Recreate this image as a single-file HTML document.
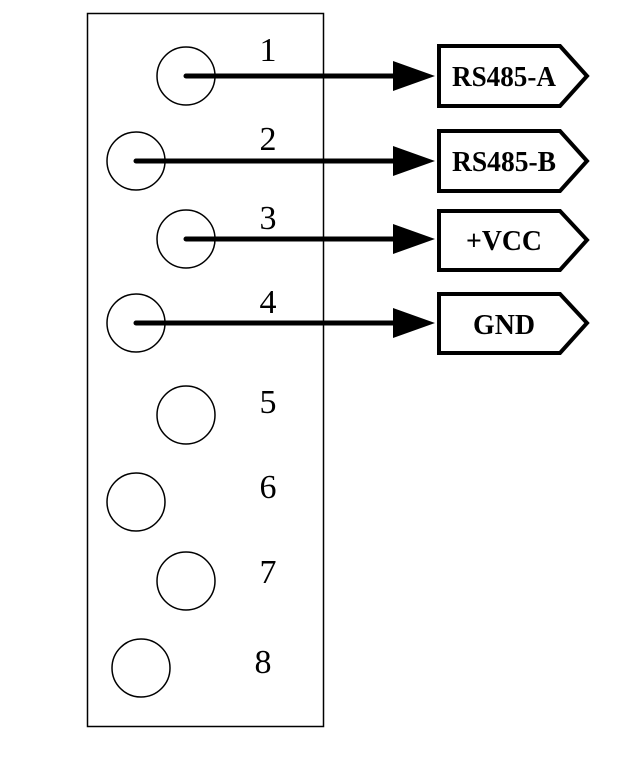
<!DOCTYPE html>
<html><head><style>body{margin:0;background:#fff}</style></head><body>
<svg width="619" height="774" xmlns="http://www.w3.org/2000/svg">
<rect x="87.5" y="13.5" width="236" height="713" fill="none" stroke="#000" stroke-width="1.5"/>
<g fill="none" stroke="#000" stroke-width="1.5">
<circle cx="186" cy="76" r="29"/><circle cx="136" cy="161" r="29"/>
<circle cx="186" cy="239" r="29"/><circle cx="136" cy="323" r="29"/>
<circle cx="186" cy="415" r="29"/><circle cx="136" cy="502" r="29"/>
<circle cx="186" cy="581" r="29"/><circle cx="141" cy="668" r="29"/>
</g>
<g font-family="Liberation Serif, serif" font-size="34" text-anchor="middle">
<text x="268" y="61">1</text><text x="268" y="150">2</text><text x="268" y="229">3</text><text x="268" y="313">4</text>
<text x="268" y="413">5</text><text x="268" y="498">6</text><text x="268" y="583">7</text><text x="263" y="673">8</text>
</g>
<g stroke="#000" stroke-width="5" stroke-linecap="round">
<line x1="186" y1="76" x2="400" y2="76"/><line x1="136" y1="161" x2="400" y2="161"/>
<line x1="186" y1="239" x2="400" y2="239"/><line x1="136" y1="323" x2="400" y2="323"/>
</g>
<g fill="#000">
<polygon points="393,61 435,76 393,91"/><polygon points="393,146 435,161 393,176"/>
<polygon points="393,224 435,239 393,254"/><polygon points="393,308 435,323 393,338"/>
</g>
<g fill="#fff" stroke="#000" stroke-width="4" stroke-linejoin="miter">
<polygon points="439,46 560,46 587,76 560,106 439,106"/>
<polygon points="439,131 560,131 587,161 560,191 439,191"/>
<polygon points="439,211 560,211 587,240 560,270 439,270"/>
<polygon points="439,294 560,294 587,323 560,353 439,353"/>
</g>
<g font-family="Liberation Serif, serif" font-size="28" font-weight="bold">
<text x="452" y="86" textLength="104" lengthAdjust="spacingAndGlyphs">RS485-A</text>
<text x="452" y="171" textLength="104" lengthAdjust="spacingAndGlyphs">RS485-B</text>
<text x="466" y="250" textLength="76" lengthAdjust="spacingAndGlyphs">+VCC</text>
<text x="473" y="334" textLength="62" lengthAdjust="spacingAndGlyphs">GND</text>
</g>
</svg>
</body></html>
